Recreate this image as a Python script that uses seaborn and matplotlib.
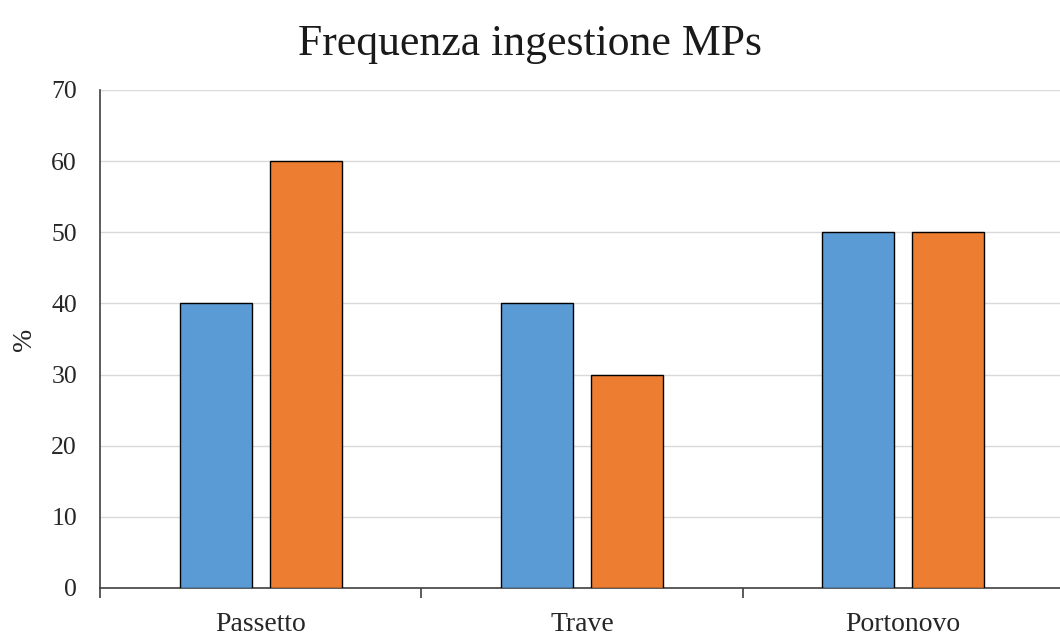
import matplotlib
matplotlib.use("Agg")
import matplotlib.pyplot as plt
from matplotlib.ticker import FixedLocator, MultipleLocator
import seaborn as sns
import pandas as pd

# Values
sites = ["Passetto", "Trave", "Portonovo"]
series_names = ["Serie 1", "Serie 2"]
serie_1 = [40, 40, 50]
serie_2 = [60, 30, 50]
colors = ["#5B9BD5", "#ED7D31"]

df = pd.DataFrame({
    "site": sites * 2,
    "value": serie_1 + serie_2,
    "serie": [series_names[0]] * len(sites) + [series_names[1]] * len(sites),
})

sns.set_theme(style="white")
plt.rcParams["font.family"] = ["Liberation Serif", "DejaVu Serif"]

fig = plt.figure(figsize=(10.6, 6.38), dpi=100)
ax = fig.add_axes([0.0943, 0.0784, 0.9094, 0.7806])

sns.barplot(data=df, x="site", y="value", hue="serie", palette=colors,
            saturation=1, width=0.56, gap=0.2, edgecolor="black", linewidth=1.0,
            legend=False, ax=ax, zorder=3)

ax.set_xlim(-0.5, 2.5)
ax.set_ylim(0, 70)
ax.yaxis.set_major_locator(MultipleLocator(10))
ax.grid(axis="y", color="#d9d9d9", linewidth=1.0, zorder=0)
ax.set_axisbelow(True)

for side in ("top", "right"):
    ax.spines[side].set_visible(False)
ax.spines["left"].set_color("#404040")
ax.spines["bottom"].set_color("#404040")
ax.spines["left"].set_linewidth(1.2)
ax.spines["bottom"].set_linewidth(1.2)

ax.xaxis.set_minor_locator(FixedLocator([-0.5, 0.5, 1.5, 2.5]))
ax.tick_params(axis="x", which="major", length=0, labelsize=20, pad=17, colors="#262626")
ax.tick_params(axis="x", which="minor", length=7, width=1.2, color="#404040", bottom=True, direction="out")
ax.tick_params(axis="y", length=0, labelsize=18.5, pad=16.5, colors="#262626")

ax.set_xlabel("")
ax.set_ylabel("%", fontsize=20, labelpad=10, color="#262626")
fig.suptitle("Frequenza ingestione MPs", fontsize=31.5, y=0.963, color="#1a1a1a")

fig.savefig("out.png", dpi=100)
